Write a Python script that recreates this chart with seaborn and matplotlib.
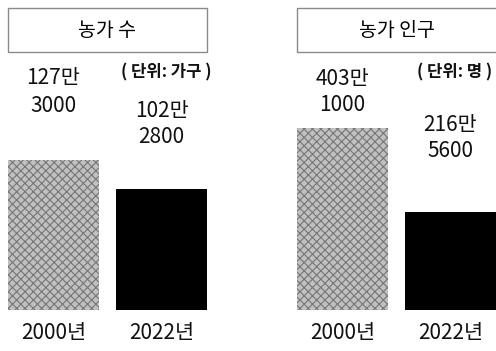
import matplotlib
matplotlib.use("Agg")
import matplotlib.pyplot as plt
import matplotlib.transforms as mtransforms
from matplotlib.patches import Rectangle
import seaborn as sns

# 농가 수 / 농가 인구 (2000년 vs 2022년)
years = ["2000년", "2022년"]
households_man = [127.3, 102.28]      # 단위: 만 가구
population_man = [403.1, 216.56]      # 단위: 만 명
panel_titles = ["농가 수", "농가 인구"]
unit_labels = ["( 단위: 가구 )", "( 단위: 명 )"]

sns.set_theme(style="white")
plt.rcParams["font.family"] = ["Liberation Sans Narrow", "Noto Sans CJK KR", "DejaVu Sans"]
plt.rcParams["hatch.linewidth"] = 0.8

W, H = 496, 351
fig = plt.figure(figsize=(W / 100, H / 100), dpi=100)
fig.patch.set_facecolor("white")

TXT = "#111111"
KR = ["Noto Sans CJK KR", "DejaVu Sans"]
NUM = ["Liberation Sans Narrow", "Noto Sans CJK KR", "DejaVu Sans"]


def fy(py):
    return 1 - py / H


def fmt_man(v):
    man = int(v)
    rest = int(round((v - man) * 10000))
    return f"{man}만", f"{rest:04d}"


def panel(x0, x1, box_x1, values, title, unit, ytop, label_y, unit_x):
    # title box
    fig.patches.append(Rectangle((x0 / W, fy(52)), (box_x1 - x0) / W, 44 / H,
                                 transform=fig.transFigure, facecolor="white",
                                 edgecolor="#8a8a8a", linewidth=1.0))
    fig.text((x0 + x1) / 2 / W, fy(30), title, ha="center", va="center",
             fontsize=14, color="#000000", family=KR)

    ax = fig.add_axes([x0 / W, fy(310), (x1 - x0) / W, 250 / H])
    sns.barplot(x=years, y=values, hue=years, palette=["#c0c0c0", "#000000"],
                legend=False, width=0.84, linewidth=0, saturation=1, ax=ax)
    ax.patches[0].set_hatch("xxxx")
    ax.patches[0].set_edgecolor("#767676")
    ax.patches[0].set_linewidth(0)
    ax.set_xlim(-0.42, 1.42)
    ax.set_ylim(0, ytop)
    ax.set_yticks([])
    ax.set_xlabel("")
    ax.set_ylabel("")
    for s in ax.spines.values():
        s.set_visible(False)
    ax.tick_params(axis="x", length=0, pad=9)
    for lab in ax.get_xticklabels():
        lab.set_fontsize(15)
        lab.set_color(TXT)
        lab.set_family(NUM)

    tr = mtransforms.blended_transform_factory(ax.transData, fig.transFigure)
    for i, v in enumerate(values):
        a, b = fmt_man(v)
        y1, y2 = label_y[i]
        ax.text(i, fy(y1), a, transform=tr, ha="center", va="center",
                fontsize=15, color=TXT, family=NUM)
        ax.text(i, fy(y2), b, transform=tr, ha="center", va="center",
                fontsize=15, color=TXT, family=NUM)
    fig.text(unit_x / W, fy(72), unit, ha="center", va="center",
             fontsize=12, fontweight="bold", color=TXT, family=KR)
    return ax


panel(8, 207, 207, households_man, panel_titles[0], unit_labels[0],
      127.3 * 250 / 150, [(78, 106), (111, 137)], 166)
panel(297, 496, 500, population_man, panel_titles[1], unit_labels[1],
      403.1 * 250 / 182, [(79, 105), (125, 151)], 455)

fig.savefig("out.png", dpi=100, facecolor="white")
